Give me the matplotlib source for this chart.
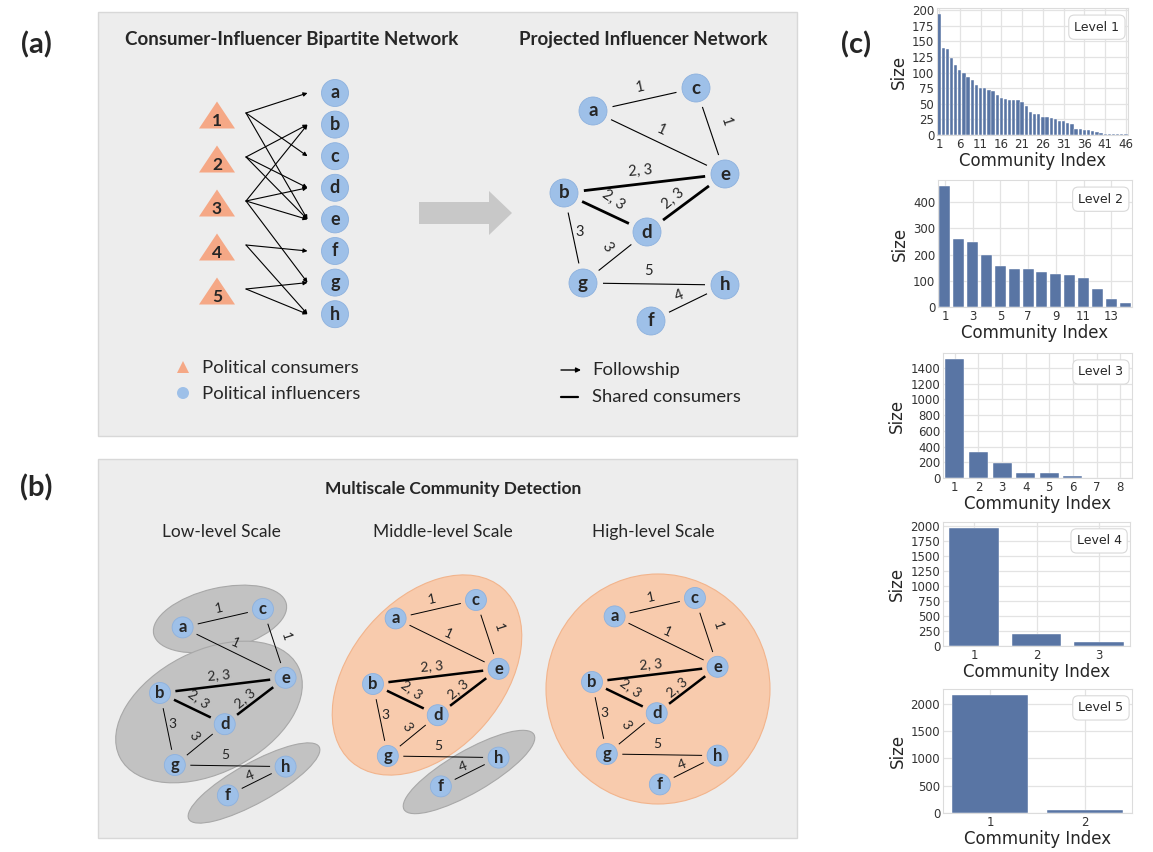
import numpy as np
import matplotlib
matplotlib.use('Agg')
import matplotlib.pyplot as plt
import seaborn as sns
from matplotlib.patches import Rectangle, Ellipse, Circle, Polygon, FancyArrowPatch
from matplotlib.ticker import MultipleLocator

# ---------------- data ----------------
consumers = ['1', '2', '3', '4', '5']
influencers = ['a', 'b', 'c', 'd', 'e', 'f', 'g', 'h']
followships = [('1', 'a'), ('1', 'c'), ('1', 'e'),
               ('2', 'b'), ('2', 'd'), ('2', 'e'),
               ('3', 'b'), ('3', 'd'), ('3', 'e'), ('3', 'g'),
               ('4', 'f'), ('4', 'h'),
               ('5', 'g'), ('5', 'h')]
proj_edges = [('a', 'c'), ('a', 'e'), ('c', 'e'), ('b', 'e'), ('b', 'd'),
              ('d', 'e'), ('b', 'g'), ('d', 'g'), ('g', 'h'), ('f', 'h')]
edge_labels = ['1', '1', '1', '2, 3', '2, 3', '2, 3', '3', '3', '5', '4']
low_communities = [['a', 'c'], ['b', 'd', 'e', 'g'], ['f', 'h']]
mid_communities = [['a', 'b', 'c', 'd', 'e', 'g'], ['f', 'h']]
high_communities = [['a', 'b', 'c', 'd', 'e', 'f', 'g', 'h']]
scale_titles = ['Low-level Scale', 'Middle-level Scale', 'High-level Scale']

level_names = ['Level 1', 'Level 2', 'Level 3', 'Level 4', 'Level 5']
level1_sizes = [194, 140, 138, 123, 113, 105, 100, 93, 88, 80,
                76, 75, 72, 70, 64, 59, 57, 56, 56, 56,
                53, 46, 37, 34, 33, 29, 29, 27, 25, 23,
                23, 19, 18, 10, 9, 8, 8, 6, 5, 4,
                2, 1, 1, 1, 1, 1]
level2_sizes = [461, 259, 248, 198, 158, 145, 144, 135, 127, 121, 111, 68, 29, 15]
level3_sizes = [1516, 335, 189, 64, 60, 26, 4, 3]
level4_sizes = [1972, 195, 61]
level5_sizes = [2166, 61]

# ---------------- figure ----------------
W, H, DPI = 1153, 852, 100
sns.set_style('whitegrid')
plt.rcParams['font.family'] = ['DejaVu Sans']
fig = plt.figure(figsize=(W / DPI, H / DPI), dpi=DPI)
ax0 = fig.add_axes([0, 0, 1, 1])
ax0.set_xlim(0, W)
ax0.set_ylim(H, 0)
ax0.axis('off')

FONT = 'Lato'
BOX_FC, BOX_EC = '#ededed', '#d8d8d8'
NODE_FC, NODE_EC = '#9ec0e8', '#8db1de'
TRI_FC = '#f5a886'
GREY_FC, GREY_EC = '#c2c2c2', '#a8a8a8'
ORNG_FC, ORNG_EC = '#f8cbad', '#f2b48c'

# panel boxes
ax0.add_patch(Rectangle((98, 12), 699, 424, fc=BOX_FC, ec=BOX_EC, lw=1, zorder=0))
ax0.add_patch(Rectangle((98, 459), 699, 379, fc=BOX_FC, ec=BOX_EC, lw=1, zorder=0))
for lab, (x, y) in zip(['(a)', '(b)', '(c)'], [(36, 45), (36, 488), (856, 45)]):
    ax0.text(x, y, lab, fontsize=21, fontweight='bold', family=FONT, ha='center', va='center')

# titles
ax0.text(292, 40, 'Consumer-Influencer Bipartite Network', fontsize=13.5, fontweight='bold',
         family=FONT, ha='center', va='center')
ax0.text(643, 40, 'Projected Influencer Network', fontsize=13.5, fontweight='bold',
         family=FONT, ha='center', va='center')
ax0.text(453, 489, 'Multiscale Community Detection', fontsize=12.5, fontweight='bold',
         family=FONT, ha='center', va='center')
for t, x in zip(scale_titles, [221, 443, 653]):
    ax0.text(x, 532, t, fontsize=12.5, family=FONT, ha='center', va='center')

# ---------------- bipartite network ----------------
tri_x, tri_y0, tri_dy, tri_w, tri_h = 217, 115, 44, 36, 27
node_x, node_y0, node_dy, node_r = 335, 93, 31.6, 13.5
tri_pos = {c: (tri_x, tri_y0 + i * tri_dy) for i, c in enumerate(consumers)}
inf_pos = {n: (node_x, node_y0 + i * node_dy) for i, n in enumerate(influencers)}

for c, n in followships:
    sx, sy = tri_pos[c]
    ex, ey = inf_pos[n]
    arr = FancyArrowPatch((sx + 29, sy - 2), (ex - node_r - 14, ey), arrowstyle='-|>',
                          mutation_scale=6, lw=0.8, color='black', shrinkA=0, shrinkB=0, zorder=3)
    ax0.add_patch(arr)
for c, (x, y) in tri_pos.items():
    ax0.add_patch(Polygon([(x - tri_w / 2, y + tri_h / 2), (x + tri_w / 2, y + tri_h / 2), (x, y - tri_h / 2)],
                          closed=True, fc=TRI_FC, ec='none', zorder=4))
    ax0.text(x, y + 6, c, fontsize=12.5, fontweight='bold', family=FONT, ha='center', va='center', zorder=5)
for n, (x, y) in inf_pos.items():
    ax0.add_patch(Circle((x, y), node_r, fc=NODE_FC, ec=NODE_EC, lw=0.6, zorder=4))
    ax0.text(x, y, n, fontsize=13, fontweight='bold', family=FONT, ha='center', va='center', zorder=5)

# legend (a) left
ax0.add_patch(Polygon([(177, 373), (189, 373), (183, 361)], closed=True, fc=TRI_FC, ec='none'))
ax0.add_patch(Circle((183, 393), 6, fc=NODE_FC, ec='none'))
ax0.text(202, 368, 'Political consumers', fontsize=13.3, family=FONT, ha='left', va='center')
ax0.text(202, 394, 'Political influencers', fontsize=13.3, family=FONT, ha='left', va='center')

# big arrow
ax0.add_patch(Polygon([(419, 202), (489, 202), (489, 191), (512, 213), (489, 235), (489, 224), (419, 224)],
                      closed=True, fc='#c8c8c8', ec='none', zorder=2))

# legend (a) right
ax0.add_patch(FancyArrowPatch((561, 370), (581, 370), arrowstyle='-|>', mutation_scale=7, lw=1,
                              color='black', shrinkA=0, shrinkB=0))
ax0.plot([561, 578], [397, 397], color='black', lw=1.6)
ax0.text(592, 370, 'Followship', fontsize=13.3, family=FONT, ha='left', va='center')
ax0.text(592, 397, 'Shared consumers', fontsize=13.3, family=FONT, ha='left', va='center')

# ---------------- projected networks ----------------
base_layout = {'a': (29, -82), 'c': (132, -105), 'e': (161, -19), 'b': (0, 0),
               'd': (83, 39), 'g': (19, 90), 'h': (161, 92), 'f': (87, 128)}
label_layout = {('a', 'c'): (76, -106, 12), ('a', 'e'): (97, -63, -25), ('c', 'e'): (162, -71, -72),
                ('b', 'e'): (76, -22, 5), ('b', 'd'): (49, 7, -35), ('d', 'e'): (109, 6, 40),
                ('b', 'g'): (16, 39, 0), ('d', 'g'): (43, 54, -55), ('g', 'h'): (84, 78, 0),
                ('f', 'h'): (115, 103, 22)}


def draw_network(ax, origin, sx, sy, r, gap, fs_node, fs_lab, lw_thin, lw_thick):
    ox, oy = origin
    pos = {k: (ox + sx * v[0], oy + sy * v[1]) for k, v in base_layout.items()}
    for (u, v), lab in zip(proj_edges, edge_labels):
        (x1, y1), (x2, y2) = pos[u], pos[v]
        L = np.hypot(x2 - x1, y2 - y1)
        ux, uy = (x2 - x1) / L, (y2 - y1) / L
        g = r + gap
        lw = lw_thick if ',' in lab else lw_thin
        ax.plot([x1 + ux * g, x2 - ux * g], [y1 + uy * g, y2 - uy * g], color='black', lw=lw,
                solid_capstyle='butt', zorder=3)
        lx, ly, rot = label_layout[(u, v)]
        ax.text(ox + sx * lx, oy + sy * ly, lab, rotation=rot, fontsize=fs_lab, family=FONT,
                ha='center', va='center', rotation_mode='anchor', zorder=4)
    for k, (x, y) in pos.items():
        ax.add_patch(Circle((x, y), r, fc=NODE_FC, ec=NODE_EC, lw=0.6, zorder=5))
        ax.text(x, y, k, fontsize=fs_node, fontweight='bold', family=FONT, ha='center', va='center', zorder=6)


draw_network(ax0, (564, 193), 1.0, 1.0, 14, 6, 13.5, 10.5, 0.8, 2.0)

# community ellipses: (center, width, height, visual angle)
community_shapes = [
    [((220, 619), 136, 62, 13), ((209, 712), 200, 122, 27), ((254, 783), 149, 40, 29)],
    [((427, 675), 230, 152, 49), ((469, 772), 150, 42, 30)],
    [((658, 689), 224, 230, 0)],
]
scale_origins = [(160, 693), (373, 684), (592, 682)]
for comms, shapes, origin in zip([low_communities, mid_communities, high_communities],
                                 community_shapes, scale_origins):
    for comm, (c, w, h, ang) in zip(comms, shapes):
        big = len(comm) >= 6
        ax0.add_patch(Ellipse(c, w, h, angle=-ang, fc=ORNG_FC if big else GREY_FC,
                              ec=ORNG_EC if big else GREY_EC, lw=0.8, zorder=1))
    draw_network(ax0, origin, 0.78, 0.80, 10.5, 5, 12, 10, 0.7, 1.8)

# ---------------- community size bar charts ----------------
all_sizes = [level1_sizes, level2_sizes, level3_sizes, level4_sizes, level5_sizes]
boxes = [(937, 8, 1128, 135), (938, 180, 1132, 307), (943, 353, 1132, 478),
         (943, 522, 1130, 646), (943, 689, 1132, 813)]
xsteps = [5, 2, 1, 1, 1]
ysteps = [25, 100, 200, 250, 500]
for name, vals, (l, t, r, b), xs, ys in zip(level_names, all_sizes, boxes, xsteps, ysteps):
    ax = fig.add_axes([l / W, 1 - b / H, (r - l) / W, (b - t) / H])
    idx = np.arange(1, len(vals) + 1)
    ax.bar(idx, vals, width=0.8, color='#5975a4', edgecolor='white', linewidth=0.3, zorder=2)
    ax.set_xlim(0.5, len(vals) + 0.5)
    ax.set_xticks(idx[::xs])
    ax.yaxis.set_major_locator(MultipleLocator(ys))
    ax.grid(True, color='#e3e3e3', lw=0.9)
    for sp in ax.spines.values():
        sp.set_color('#dcdcdc')
    ax.tick_params(labelsize=8.5, pad=2, colors='#333333', length=0)
    ax.set_ylabel('Size', fontsize=12, color='#262626', labelpad=3)
    ax.set_xlabel('Community Index', fontsize=12, color='#262626', labelpad=1)
    ax.text(0.955, 0.9, name, transform=ax.transAxes, ha='right', va='top', fontsize=9,
            color='#262626',
            bbox=dict(boxstyle='round,pad=0.45', fc='white', ec='#d9d9d9', lw=0.8))

fig.savefig('out.png', dpi=DPI)
